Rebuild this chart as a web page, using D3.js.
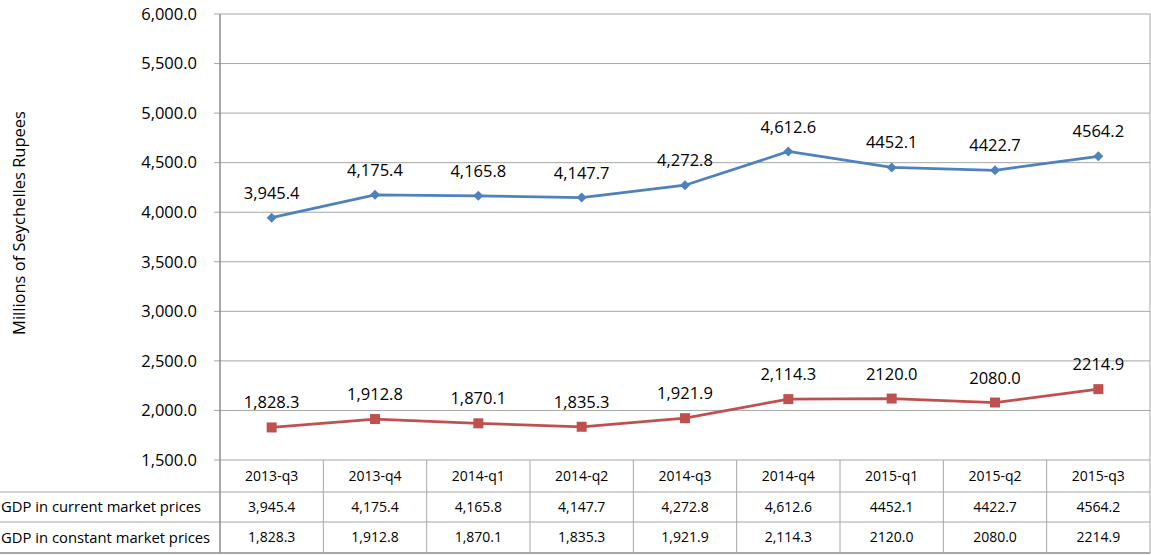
<!DOCTYPE html>
<html>
<head>
<meta charset="utf-8">
<script src="https://d3js.org/d3.v7.min.js"></script>
<style>
  body { margin: 0; background: #fff; }
  text { font-family: "Open Sans", sans-serif; fill: #000; }
</style>
</head>
<body>
<div id="chart"></div>
<script>
// data
const quarters = ["2013-q3", "2013-q4", "2014-q1", "2014-q2", "2014-q3", "2014-q4", "2015-q1", "2015-q2", "2015-q3"];
const currentPrices = [3945.4, 4175.4, 4165.8, 4147.7, 4272.8, 4612.6, 4452.1, 4422.7, 4564.2];
const constantPrices = [1828.3, 1912.8, 1870.1, 1835.3, 1921.9, 2114.3, 2120.0, 2080.0, 2214.9];
// labels as printed in the source (mixed formatting)
const currentLabels = ["3,945.4", "4,175.4", "4,165.8", "4,147.7", "4,272.8", "4,612.6", "4452.1", "4422.7", "4564.2"];
const constantLabels = ["1,828.3", "1,912.8", "1,870.1", "1,835.3", "1,921.9", "2,114.3", "2120.0", "2080.0", "2214.9"];
const yTicks = [1500, 2000, 2500, 3000, 3500, 4000, 4500, 5000, 5500, 6000];

const W = 1151, H = 555;
const plotL = 220, plotR = 1150, plotT = 14, plotB = 460;
const rowH = [32, 30, 31];
const gridColor = "#a6a6a6";

const svg = d3.select("#chart").append("svg")
  .attr("width", W).attr("height", H);

const x = d3.scaleBand().domain(quarters).range([plotL, plotR]);
const y = d3.scaleLinear().domain([1500, 6000]).range([plotB, plotT]);
const cx = d => x(d) + x.bandwidth() / 2;

// gridlines
svg.append("g").selectAll("line").data(yTicks).join("line")
  .attr("x1", plotL - 6).attr("x2", plotR)
  .attr("y1", d => y(d)).attr("y2", d => y(d))
  .attr("stroke", gridColor).attr("stroke-width", 1);

// y tick labels
svg.append("g").selectAll("text").data(yTicks).join("text")
  .attr("x", 197).attr("y", d => y(d))
  .attr("dy", "0.35em")
  .attr("text-anchor", "end")
  .style("font-size", "16.5px")
  .text(d => d3.format(",.1f")(d));

// y axis title
svg.append("text")
  .attr("transform", `translate(25,223) rotate(-90)`)
  .attr("text-anchor", "middle")
  .style("font-size", "16.5px")
  .text("Millions of Seychelles Rupees");

// table
const rowY = [plotB, plotB + rowH[0], plotB + rowH[0] + rowH[1], plotB + rowH[0] + rowH[1] + rowH[2]];
const tg = svg.append("g");
// horizontal table lines
[1, 2, 3].forEach(i => {
  tg.append("line").attr("x1", 0).attr("x2", plotR)
    .attr("y1", rowY[i]).attr("y2", rowY[i])
    .attr("stroke", gridColor).attr("stroke-width", i === 3 ? 2 : 1);
});
// vertical column lines
const colEdges = quarters.map(q => x(q)).concat([plotR]);
tg.selectAll("line.col").data(colEdges.slice(1)).join("line")
  .attr("class", "col")
  .attr("x1", d => d).attr("x2", d => d)
  .attr("y1", plotB).attr("y2", rowY[3])
  .attr("stroke", gridColor);

// plot frame: axis line at left and right border
svg.append("line").attr("x1", plotL).attr("x2", plotL)
  .attr("y1", plotT).attr("y2", rowY[3])
  .attr("stroke", "#8c8c8c").attr("stroke-width", 1.5);
svg.append("line").attr("x1", plotR).attr("x2", plotR)
  .attr("y1", plotT).attr("y2", plotB)
  .attr("stroke", gridColor);

// table text
const rows = [
  { label: null, values: quarters },
  { label: "GDP in current market prices", values: currentLabels },
  { label: "GDP in constant market prices", values: constantLabels }
];
rows.forEach((r, i) => {
  const ym = (rowY[i] + rowY[i + 1]) / 2;
  if (r.label) {
    tg.append("text").attr("x", 1).attr("y", ym).attr("dy", "0.35em")
      .style("font-size", "14.8px").text(r.label);
  }
  tg.append("g").selectAll("text").data(r.values).join("text")
    .attr("x", (d, j) => cx(quarters[j]))
    .attr("y", ym).attr("dy", "0.35em")
    .attr("text-anchor", "middle")
    .style("font-size", "14px")
    .text(d => d);
});

// series
const series = [
  { values: currentPrices, labels: currentLabels, color: "#4f81bd", symbol: "diamond" },
  { values: constantPrices, labels: constantLabels, color: "#c0504d", symbol: "square" }
];

series.forEach(s => {
  const line = d3.line()
    .x((d, i) => cx(quarters[i]))
    .y(d => y(d));
  svg.append("path")
    .datum(s.values)
    .attr("fill", "none")
    .attr("stroke", s.color)
    .attr("stroke-width", 2.75)
    .attr("d", line);

  if (s.symbol === "diamond") {
    svg.append("g").selectAll("path").data(s.values).join("path")
      .attr("transform", (d, i) => `translate(${cx(quarters[i])},${y(d)}) rotate(45)`)
      .attr("d", d3.symbol(d3.symbolSquare, 50)())
      .attr("fill", s.color);
  } else {
    svg.append("g").selectAll("path").data(s.values).join("path")
      .attr("transform", (d, i) => `translate(${cx(quarters[i])},${y(d)})`)
      .attr("d", d3.symbol(d3.symbolSquare, 100)())
      .attr("fill", s.color);
  }

  svg.append("g").selectAll("text").data(s.values).join("text")
    .attr("x", (d, i) => cx(quarters[i]))
    .attr("y", d => y(d) - 19)
    .attr("text-anchor", "middle")
    .style("font-size", "16.5px")
    .text((d, i) => s.labels[i]);
});
</script>
</body>
</html>
